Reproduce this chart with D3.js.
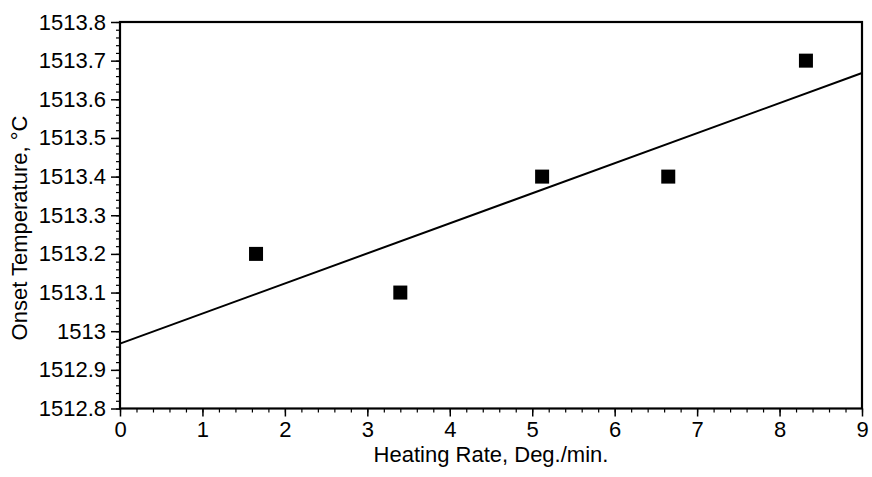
<!DOCTYPE html>
<html><head><meta charset="utf-8">
<script src="https://cdn.jsdelivr.net/npm/d3@7"></script>
<style>body{margin:0;background:#fff}svg{display:block}text{font-family:"Liberation Sans",Arial,sans-serif;fill:#000}</style>
</head><body><svg id="c" width="872" height="477"></svg>
<script>
const heatingRate = [1.65, 3.4, 5.12, 6.65, 8.32];
const onsetTemp = [1513.2, 1513.1, 1513.4, 1513.4, 1513.7];
const fitX = [0, 9];
const fitY = [1512.968, 1513.668];
const xTicks = [0,1,2,3,4,5,6,7,8,9];
const yTicks = [1512.8,1512.9,1513,1513.1,1513.2,1513.3,1513.4,1513.5,1513.6,1513.7,1513.8];
const xLabel = "Heating Rate, Deg./min.";
const yLabel = "Onset Temperature, °C";

const svg = d3.select("#c");
const L=120,R=862,T=22,B=408.5;
const FS=22;
const x = d3.scaleLinear().domain([0,9]).range([L,R]);
const y = d3.scaleLinear().domain([1512.8,1513.8]).range([B,T]);

const xMinor = d3.range(0,9.001,0.2);
const yMinor = d3.range(0,51).map(i=>1512.8+i*0.02);
svg.append("g").attr("transform",`translate(0,${B})`)
  .call(d3.axisBottom(x).tickValues(xMinor).tickSize(4).tickFormat(""))
  .call(g=>g.select(".domain").remove())
  .call(g=>g.selectAll("line").attr("stroke-width",1.2));
svg.append("g").attr("transform",`translate(${L},0)`)
  .call(d3.axisLeft(y).tickValues(yMinor).tickSize(4).tickFormat(""))
  .call(g=>g.select(".domain").remove())
  .call(g=>g.selectAll("line").attr("stroke-width",1.2));

svg.append("g").attr("transform",`translate(0,${B})`)
  .call(d3.axisBottom(x).tickValues(xTicks).tickSize(8).tickPadding(5).tickFormat(d3.format("d")))
  .attr("font-size",FS).attr("font-family","Liberation Sans, Arial, sans-serif")
  .call(g=>g.select(".domain").remove())
  .call(g=>g.selectAll("line").attr("stroke-width",1.5));
svg.append("g").attr("transform",`translate(${L},0)`)
  .call(d3.axisLeft(y).tickValues(yTicks).tickSize(9).tickPadding(5).tickFormat(d=>String(+d.toFixed(1))))
  .attr("font-size",FS).attr("font-family","Liberation Sans, Arial, sans-serif")
  .call(g=>g.select(".domain").remove())
  .call(g=>g.selectAll("line").attr("stroke-width",1.5));

svg.append("rect").attr("x",L).attr("y",T).attr("width",R-L).attr("height",B-T)
  .attr("fill","none").attr("stroke","#000").attr("stroke-width",2.2);

svg.append("path").datum(fitX.map((v,i)=>[v,fitY[i]]))
  .attr("d",d3.line().x(d=>x(d[0])).y(d=>y(d[1])))
  .attr("stroke","#000").attr("stroke-width",2).attr("fill","none");

const s=14;
svg.append("g").selectAll("rect").data(heatingRate.map((v,i)=>[v,onsetTemp[i]])).join("rect")
  .attr("x",d=>x(d[0])-s/2).attr("y",d=>y(d[1])-s/2).attr("width",s).attr("height",s).attr("fill","#000");

svg.append("text").attr("x",(L+R)/2).attr("y",462).attr("text-anchor","middle").attr("font-size",FS).text(xLabel);
svg.append("text").attr("transform",`translate(27,228) rotate(-90)`).attr("text-anchor","middle").attr("font-size",FS).text(yLabel);
</script></body></html>
